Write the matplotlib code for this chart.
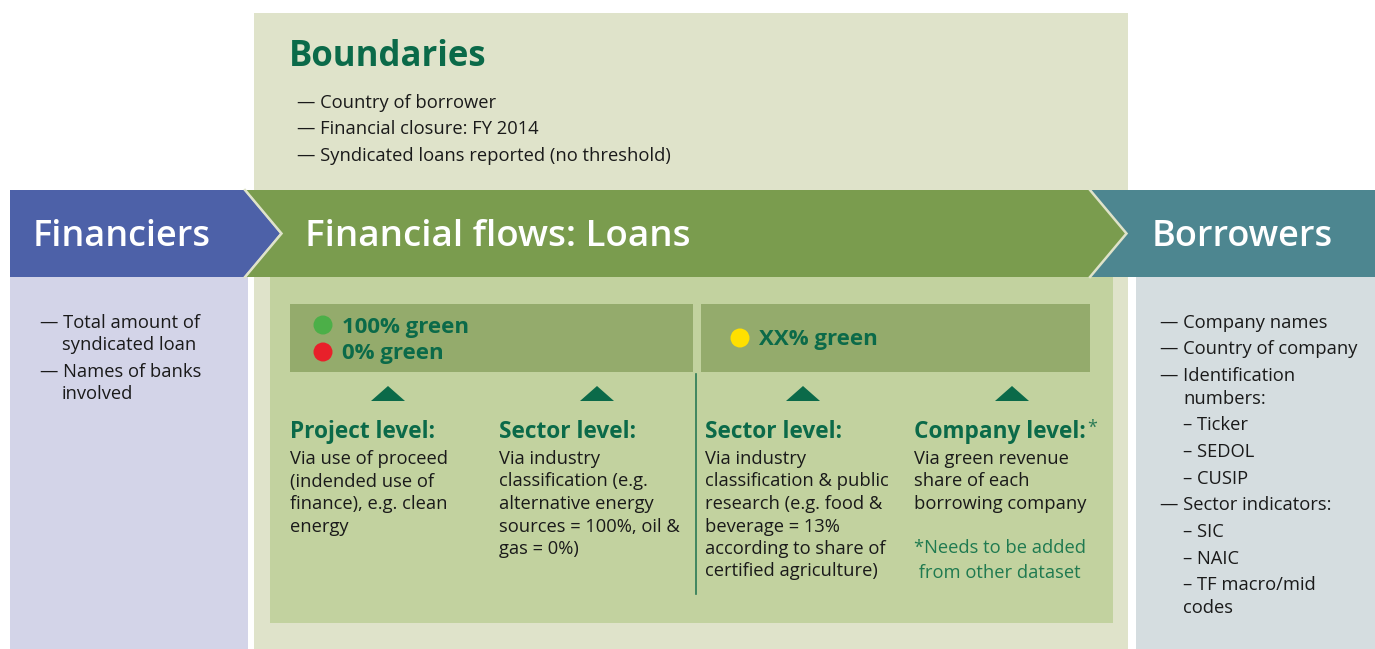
"""Loan data flow diagram: financiers -> financial flows (loans) -> borrowers."""

import matplotlib
matplotlib.use("Agg")
import matplotlib.pyplot as plt
from matplotlib.patches import Polygon, Rectangle, Circle

plt.rcParams["font.family"] = ["Open Sans", "DejaVu Sans"]

# ── Content ──────────────────────────────────────────────────────────────
boundary_title = "Boundaries"
boundary_items = ["— Country of borrower",
                  "— Financial closure: FY 2014",
                  "— Syndicated loans reported (no threshold)"]

stage_titles = ["Financiers", "Financial flows: Loans", "Borrowers"]

financier_lines = [("— Total amount of", 0), ("syndicated loan", 1),
                   ("— Names of banks", 0), ("involved", 1)]

borrower_lines = [("— Company names", 0), ("— Country of company", 0),
                  ("— Identification", 0), ("numbers:", 1),
                  ("– Ticker", 1), ("– SEDOL", 1), ("– CUSIP", 1),
                  ("— Sector indicators:", 0), ("– SIC", 1), ("– NAIC", 1),
                  ("– TF macro/mid", 1), ("codes", 1)]

left_labels = [("100% green", "#4caf48"), ("0% green", "#e8202a")]
right_labels = [("XX% green", "#ffe000")]

level_titles = ["Project level:", "Sector level:", "Sector level:", "Company level:"]
level_bodies = [
    ["Via use of proceed", "(indended use of", "finance), e.g. clean", "energy"],
    ["Via industry", "classification (e.g.", "alternative energy",
     "sources = 100%, oil &", "gas = 0%)"],
    ["Via industry", "classification & public", "research (e.g. food &",
     "beverage = 13%", "according to share of", "certified agriculture)"],
    ["Via green revenue", "share of each", "borrowing company"],
]
footnote = ["*Needs to be added", " from other dataset"]

# ── Colours ──────────────────────────────────────────────────────────────
C_BOUND = "#dfe3ca"
C_INNER = "#c2d29f"
C_BAR = "#94ab6c"
C_GREEN = "#7a9c4e"
C_BLUE = "#4d61a8"
C_TEAL = "#4d8690"
C_LAV = "#d3d4e8"
C_GREY = "#d5dde0"
C_DARK = "#0b6a49"
C_TEXT = "#1a1a1a"

FS_BODY = 13.2

W, H = 1375, 649
fig = plt.figure(figsize=(W / 100, H / 100), dpi=100)
ax = fig.add_axes([0, 0, 1, 1])
ax.set_xlim(0, W)
ax.set_ylim(H, 0)
ax.axis("off")

# background panels
ax.add_patch(Rectangle((254, 13), 874, H - 13, color=C_BOUND, lw=0))
ax.add_patch(Rectangle((270, 277), 843, 346, color=C_INNER, lw=0))
ax.add_patch(Rectangle((10, 277), 238, H - 277, color=C_LAV, lw=0))
ax.add_patch(Rectangle((1136, 277), W - 1136, H - 277, color=C_GREY, lw=0))

# arrow band
ytop, ybot, ymid = 190, 277, 233.5
ax.add_patch(Polygon([(1090, ytop), (W, ytop), (W, ybot), (1090, ybot),
                      (1127, ymid)], closed=True, color=C_TEAL, lw=0))
ax.add_patch(Polygon([(246, ytop), (1090, ytop), (1127, ymid), (1090, ybot),
                      (246, ybot), (282, ymid)], closed=True, color=C_GREEN, lw=0))
ax.add_patch(Polygon([(10, ytop), (244, ytop), (280, ymid), (244, ybot),
                      (10, ybot)], closed=True, color=C_BLUE, lw=0))
for x0 in (245, 1090):
    ax.plot([x0, x0 + 36.5, x0], [ytop, ymid, ybot], color=C_BOUND, lw=1.8,
            solid_joinstyle="miter")

title_x = [33, 305, 1152]
title_fs = [26, 26.5, 26]
for x, t, fs in zip(title_x, stage_titles, title_fs):
    ax.text(x, ymid + 4, t, color="white", fontsize=fs, fontweight="semibold",
            ha="left", va="center")

# boundaries
ax.text(289, 57, boundary_title, color=C_DARK, fontsize=25, fontweight="bold",
        ha="left", va="center")
for i, t in enumerate(boundary_items):
    ax.text(297, 103 + i * 26.5, t, color=C_TEXT, fontsize=FS_BODY,
            ha="left", va="center")

# side lists
fy = [323, 345, 372, 394]
for y, (t, ind) in zip(fy, financier_lines):
    ax.text(40 + 22 * ind, y, t, color=C_TEXT, fontsize=FS_BODY, ha="left", va="center")

by = [323, 349, 376, 399, 425, 452, 479, 505, 532, 559, 585, 608]
for y, (t, ind) in zip(by, borrower_lines):
    ax.text(1160 + 23 * ind, y, t, color=C_TEXT, fontsize=FS_BODY, ha="left", va="center")

# header bars
ax.add_patch(Rectangle((290, 304), 403, 68, color=C_BAR, lw=0))
ax.add_patch(Rectangle((701, 304), 389, 68, color=C_BAR, lw=0))
for i, (t, c) in enumerate(left_labels):
    y = 325 + i * 27
    ax.add_patch(Circle((323, y), 9.5, color=c, lw=0))
    ax.text(342, y + 2, t, color=C_DARK, fontsize=16, fontweight="bold",
            ha="left", va="center")
for t, c in right_labels:
    ax.add_patch(Circle((740, 338), 9.5, color=c, lw=0))
    ax.text(759, 340, t, color=C_DARK, fontsize=16, fontweight="bold",
            ha="left", va="center")

ax.plot([696, 696], [374, 594], color="#2a7a55", lw=1.2)

# levels
col_x = [290, 499, 705, 914]
last = None
for x, title, body in zip(col_x, level_titles, level_bodies):
    cx = x + 98
    ax.add_patch(Polygon([(cx - 17, 401), (cx + 17, 401), (cx, 386)],
                         closed=True, color=C_DARK, lw=0))
    last = ax.text(x, 432, title, color=C_DARK, fontsize=16.3, fontweight="bold",
                   ha="left", va="center")
    for j, line in enumerate(body):
        ax.text(x, 459 + j * 22.5, line, color=C_TEXT, fontsize=FS_BODY,
                ha="left", va="center")

# asterisk right after "Company level:"
fig.canvas.draw()
bb = last.get_window_extent().transformed(ax.transData.inverted())
ax.text(bb.x1 + 1, 428, "*", color="#2a7a55", fontsize=13, ha="left", va="center")

for j, line in enumerate(footnote):
    ax.text(914, 548 + j * 25, line, color="#1f7a50", fontsize=FS_BODY,
            ha="left", va="center")

fig.savefig("out.png", dpi=100)
